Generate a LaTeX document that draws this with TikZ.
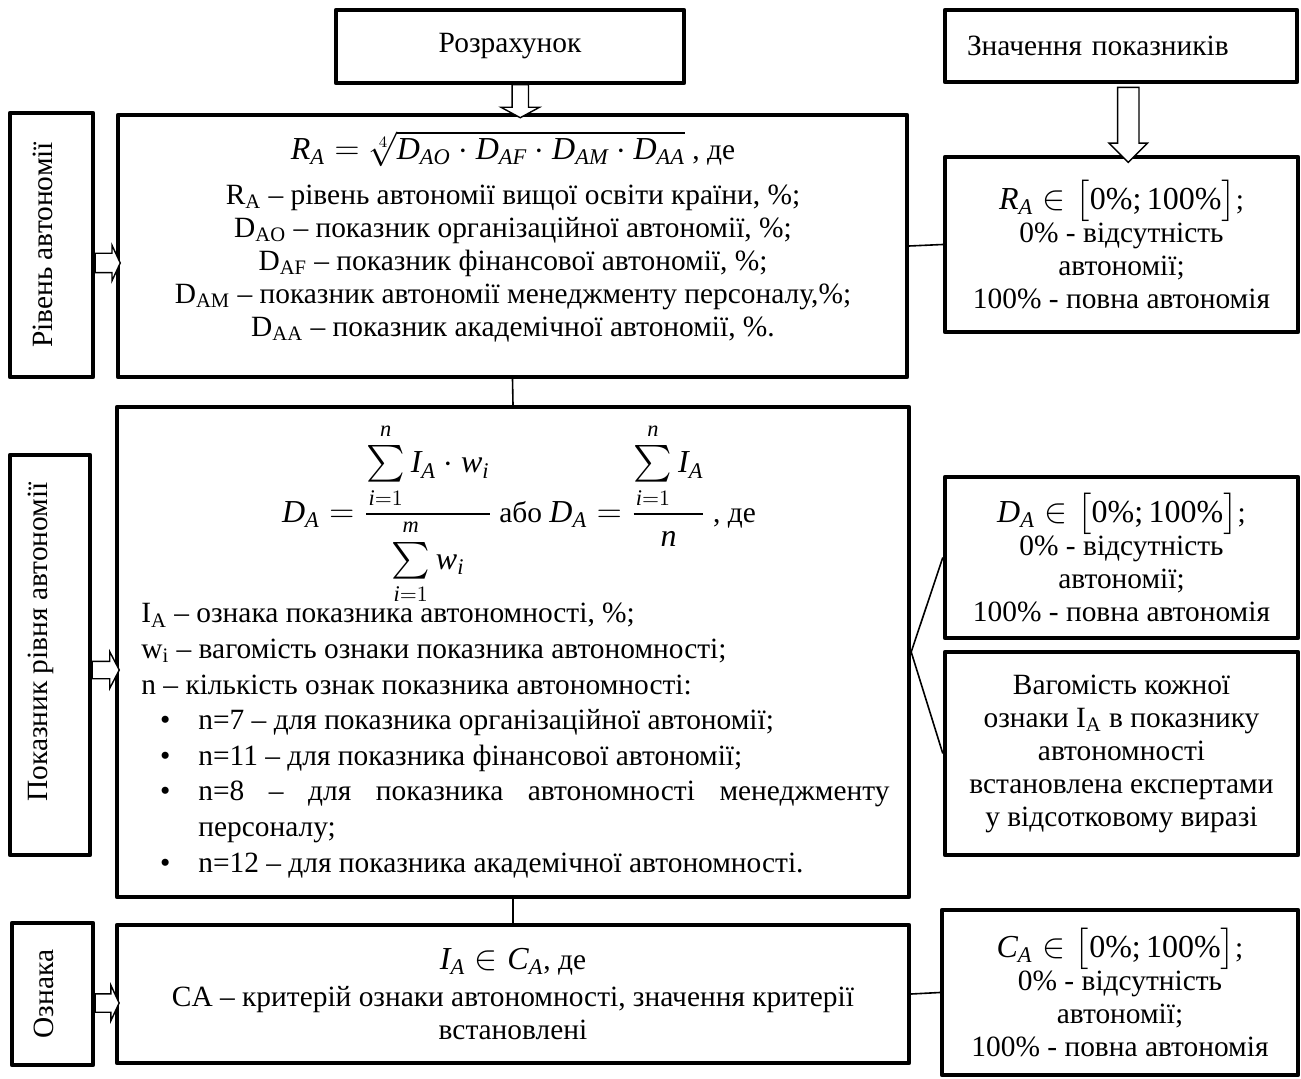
\documentclass[tikz,border=0pt]{standalone}
\usepackage{amsmath}
\usepackage{fontspec}
\setmainfont{Liberation Serif}
\DeclareSymbolFont{letters}{TU}{\rmdefault}{m}{it}
\usepackage{graphicx}
\usepackage{tikz}
\usetikzlibrary{arrows.meta, positioning, shapes, calc}

\newcommand{\eqsize}{\fontsize{16}{19}\selectfont}
\newcommand{\bigsum}{\mathop{\vcenter{\vskip1.2pt\hbox{\scalebox{1.06}{$\textstyle\sum$}}\vskip1.2pt}}\limits}
\newcommand{\sidetext}[1]{\rotatebox{90}{\raisebox{4.5pt}[\height][\depth]{#1}}}

\begin{document}
\begin{tikzpicture}[x=0.5pt, y=-0.5pt, font=\fontsize{14.7}{16.5}\selectfont]
        \tikzstyle{box} = [rectangle, draw, line width=2.2pt, line join=round, inner sep=0pt, align=center]
        \tikzstyle{hollow} = [single arrow, draw, line width=0.7pt, inner xsep=0pt, fill=white]
        \tikzstyle{link} = [line width=0.8pt]

        \useasboundingbox (0,0) rectangle (1301,1079);

        % Headers
        \node (calc) [box, minimum width=174pt, minimum height=36.5pt] at (510,46.5) {Розрахунок};
        \node (vals) [box, minimum width=176pt, minimum height=36pt, text width=154pt, align=left, inner xsep=11pt] at (1121,46) {Значення показників};

        % Side labels
        \node (lvl) [box, minimum width=41.5pt, minimum height=132pt] at (51.5,245) {\sidetext{Рівень автономії}};
        \node (ind) [box, minimum width=40pt, minimum height=200pt] at (50,655) {\sidetext{\hspace*{13pt}Показник рівня автономії}};
        \node (sign) [box, minimum width=40.5pt, minimum height=71pt] at (52.5,994) {\sidetext{Ознака}};

        % Main boxes
        \node (main1) [box, minimum width=394.5pt, minimum height=131pt] at (512.5,246) {};
        \node (main1txt) [anchor=north, align=center] at (513,124) {{\eqsize $R_A=\sqrt[4]{D_{AO}\cdot D_{AF}\cdot D_{AM}\cdot D_{AA}}$} , де\\[6pt]
            R\textsubscript{A} – рівень автономії вищої освіти країни, \%;\\
            D\textsubscript{AO} – показник організаційної автономії, \%;\\
            D\textsubscript{AF} – показник фінансової автономії, \%;\\
            D\textsubscript{AM} – показник автономії менеджменту персоналу,\%;\\
            D\textsubscript{AA} – показник академічної автономії, \%.};

        \node (main2) [box, minimum width=396pt, minimum height=245pt] at (513,652) {};
        \node (main2eq) at (519,514) {{\eqsize $D_A=\dfrac{\bigsum_{i=1}^{n} I_A\cdot w_i}{\bigsum_{i=1}^{m} w_i}$} або {\eqsize $D_A=\dfrac{\bigsum_{i=1}^{n} I_A}{n}$} , де};
        \node (main2txt) [anchor=north west, inner sep=0pt, text width=374pt, align=justify, font=\fontsize{14.7}{17.8}\selectfont] at (141,603) {%
            I\textsubscript{A} – ознака показника автономності, \%;\par
            w\textsubscript{i} – вагомість ознаки показника автономності;\par
            n – кількість ознак показника автономності:
            \begin{list}{\textbullet}{\setlength{\leftmargin}{28.5pt}\setlength{\labelsep}{14pt}\setlength{\labelwidth}{14.5pt}%
                \setlength{\itemsep}{0pt}\setlength{\parsep}{0pt}\setlength{\topsep}{0pt}\setlength{\partopsep}{0pt}}
            \item n=7 – для показника організаційної автономії;
            \item n=11 – для показника фінансової автономії;
            \item n=8 – для показника автономності менеджменту персоналу;
            \item n=12 – для показника академічної автономності.
            \end{list}};

        \node (main3) [box, minimum width=396pt, minimum height=69pt] at (513,994) {{\eqsize $I_A\in C_A$}, де\\[2pt]
            CA – критерій ознаки автономності, значення критерії\\встановлені};

        % Value boxes
        \node (rv1) [box, minimum width=176.5pt, minimum height=87.5pt] at (1121.5,244.5) {{\eqsize $R_A\in\bigl[\text{0\%;\,100\%}\bigr]$};\\0\% - відсутність\\автономії;\\100\% - повна автономія};
        \node (rv2) [box, minimum width=176.5pt, minimum height=80.5pt] at (1121.5,557.5) {{\eqsize $D_A\in\bigl[\text{0\%;\,100\%}\bigr]$};\\0\% - відсутність\\автономії;\\100\% - повна автономія};
        \node (wgt) [box, minimum width=176.5pt, minimum height=101.5pt] at (1121.5,753.5) {Вагомість кожної\\ознаки I\textsubscript{A} в показнику\\автономності\\встановлена експертами\\у відсотковому виразі};
        \node (rv3) [box, minimum width=178pt, minimum height=82.5pt] at (1120,992.5) {{\eqsize $C_A\in\bigl[\text{0\%;\,100\%}\bigr]$};\\0\% - відсутність\\автономії;\\100\% - повна автономія};

        % Links
        \draw [link] (main1.east) -- (rv1.west);
        \draw [link] (main1.south) -- (main2.north);
        \draw [link] (main2.south) -- (main3.north);
        \draw [link] (main2.east) -- (rv2.west);
        \draw [link] (main2.east) -- (wgt.west);
        \draw [link] (main3.east) -- (rv3.west);

        % Block arrows
        \node (arr1) [hollow, rotate=-90, minimum height=16.5pt, inner ysep=3.75pt, single arrow head extend=5.5pt, single arrow tip angle=123] at ($(calc.south)!0.5!(main1.north)+(9,0)$) {};
        \node (arr2) [hollow, rotate=-90, minimum height=37.5pt, inner ysep=5pt, single arrow head extend=4.25pt, single arrow tip angle=90] at ($(vals.south)!0.5!(rv1.north)+(7,0)$) {};
        \node (arr3) [hollow, minimum height=12.5pt, inner ysep=4.5pt, single arrow head extend=4pt, single arrow tip angle=130] at ($(lvl.east)!0.5!(main1.west)+(0,17.5)$) {};
        \node (arr4) [hollow, minimum height=13.5pt, inner ysep=4pt, single arrow head extend=4.75pt, single arrow tip angle=125] at ($(ind.east)!0.5!(main2.west)+(0,16.5)$) {};
        \node (arr5) [hollow, minimum height=12pt, inner ysep=4.25pt, single arrow head extend=4.25pt, single arrow tip angle=130] at ($(sign.east)!0.5!(main3.west)+(0,9)$) {};
    \end{tikzpicture}
\end{document}
